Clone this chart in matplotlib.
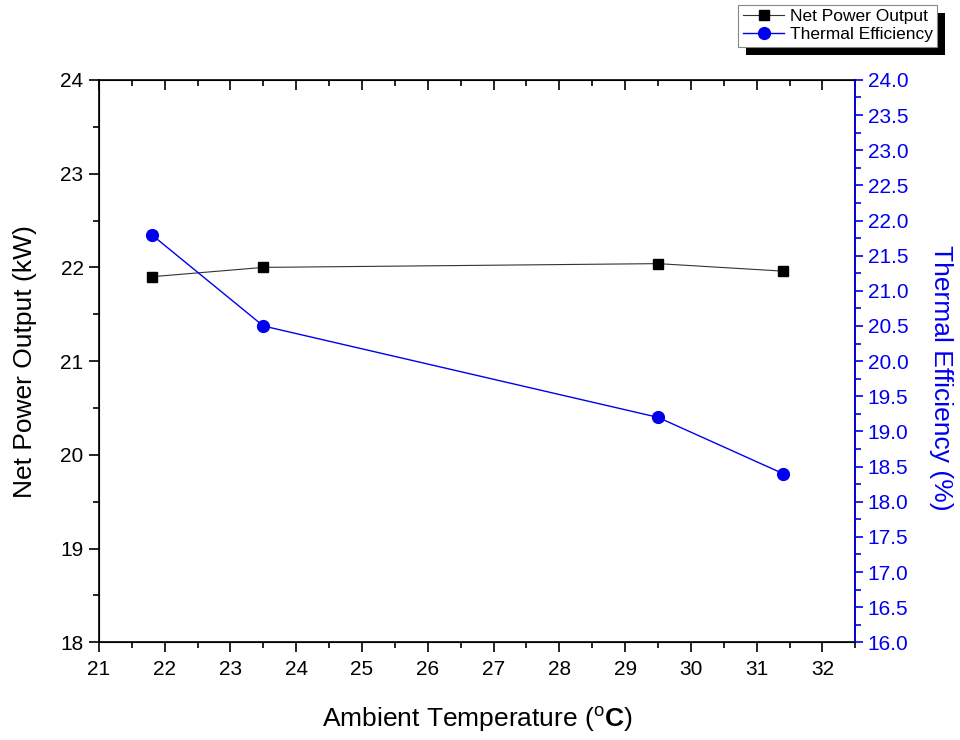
import matplotlib
matplotlib.use("Agg")
import matplotlib.pyplot as plt
from matplotlib.patches import Rectangle
from matplotlib.ticker import MultipleLocator

plt.rcParams['font.family'] = ['Liberation Sans', 'DejaVu Sans']
plt.rcParams['mathtext.fontset'] = 'custom'
plt.rcParams['mathtext.rm'] = 'Liberation Sans'
plt.rcParams['mathtext.bf'] = 'Liberation Sans:bold'

# ambient temperature (deg C)
temperature = [21.8, 23.5, 29.5, 31.4]
# net power output (kW)
net_power = [21.9, 22.0, 22.04, 21.96]
# thermal efficiency (%)
efficiency = [21.8, 20.5, 19.2, 18.4]

BLUE = '#0000ee'

fig = plt.figure(figsize=(9.6, 7.4), dpi=100)
ax = fig.add_axes([0.103, 0.132, 0.788, 0.76])
ax2 = ax.twinx()

l1, = ax.plot(temperature, net_power, color='#333333', lw=0.8, marker='s',
              ms=7, mfc='black', mec='black', label='Net Power Output')
l2, = ax2.plot(temperature, efficiency, color=BLUE, lw=1.0, marker='o',
               ms=8.5, mfc=BLUE, mec=BLUE, label='Thermal Efficiency')

ax.set_xlim(21, 32.5)
ax.set_ylim(18, 24)
ax2.set_ylim(16, 24)

ax.xaxis.set_major_locator(MultipleLocator(1))
ax.xaxis.set_minor_locator(MultipleLocator(0.5))
ax.yaxis.set_major_locator(MultipleLocator(1))
ax.yaxis.set_minor_locator(MultipleLocator(0.5))
ax2.yaxis.set_major_locator(MultipleLocator(0.5))
ax2.yaxis.set_minor_locator(MultipleLocator(0.25))
ax2.yaxis.set_major_formatter(plt.FormatStrFormatter('%.1f'))

ax.tick_params(axis='x', which='both', direction='out', top=True, labelsize=15,
               width=1.2, pad=6)
ax.tick_params(axis='x', which='major', length=7)
ax.tick_params(axis='x', which='minor', length=4)
ax.tick_params(axis='y', which='both', direction='out', right=False, labelsize=15,
               width=1.2, pad=4)
ax.tick_params(axis='y', which='major', length=7)
ax.tick_params(axis='y', which='minor', length=4)
# top ticks point inward
for t in ax.xaxis.get_major_ticks() + ax.xaxis.get_minor_ticks():
    t.tick2line.set_marker(3)

ax2.tick_params(axis='y', which='both', direction='out', colors=BLUE,
                labelsize=15, width=1.2, pad=3)
ax2.tick_params(axis='y', which='major', length=6)
ax2.tick_params(axis='y', which='minor', length=4)

for s in ax.spines.values():
    s.set_linewidth(1.2)
ax2.spines['right'].set_color(BLUE)
ax2.spines['right'].set_linewidth(1.2)

ax.set_xlabel(r'Ambient Temperature ($^\mathregular{o}$$\mathbf{C}$)', fontsize=19,
              labelpad=18)
ax.set_ylabel('Net Power Output (kW)', fontsize=19, labelpad=17)
ax2.set_ylabel('Thermal Efficiency (%)', fontsize=19, color=BLUE, rotation=270,
               labelpad=32)
ax2.yaxis.label.set_y(0.47)

leg = fig.legend(handles=[l1, l2], loc='upper right',
                 bbox_to_anchor=(937 / 960, 1 - 5 / 740), fontsize=12.5,
                 fancybox=False, edgecolor='#888888', framealpha=1,
                 borderaxespad=0, handlelength=2.4, handletextpad=0.3,
                 borderpad=0.25, labelspacing=0.15)
leg.get_frame().set_linewidth(0.8)
leg.set_zorder(5)

# solid drop shadow under the legend box
fig.canvas.draw()
bb = leg.get_window_extent().transformed(fig.transFigure.inverted())
dx, dy = 8 / 960, 8 / 740
fig.patches.append(Rectangle((bb.x0 + dx, bb.y0 - dy), bb.width, bb.height,
                             transform=fig.transFigure, facecolor='black',
                             edgecolor='none', zorder=4))

fig.savefig('out.png', dpi=100)
